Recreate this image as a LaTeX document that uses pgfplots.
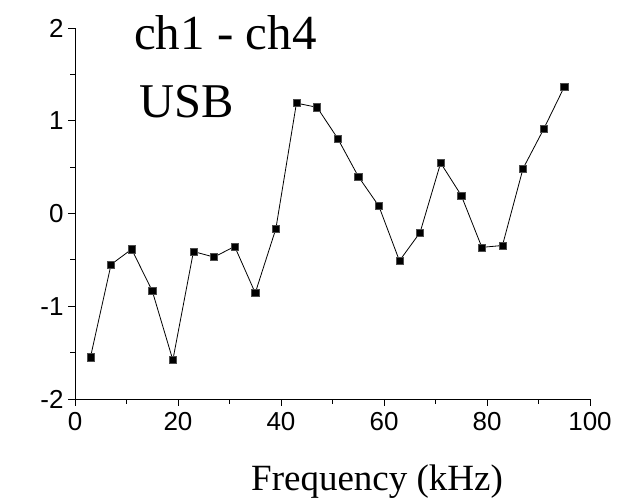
\documentclass[border=0pt]{standalone}
\usepackage{fontspec}
\setmainfont{Liberation Serif}
\newfontfamily\arial{Liberation Sans}
\usepackage{pgfplots}
\pgfplotsset{compat=1.18}
\begin{document}
\begin{tikzpicture}
\path[use as bounding box] (0,0) rectangle (624bp,502bp);
\begin{axis}[
  at={(75bp,103bp)}, anchor=south west,
  scale only axis, width=515bp, height=371bp,
  xmin=0, xmax=100, ymin=-2, ymax=2,
  axis x line*=bottom, axis y line*=left,
  axis line style={line width=0.9bp, -},
  xtick={0,20,40,60,80,100}, ytick={-2,-1,0,1,2},
  minor x tick num=1, minor y tick num=1,
  tick align=outside,
  major tick length=7bp, minor tick length=5bp,
  tick style={line width=0.9bp, black},
  /pgf/number format/assume math mode=true,
  every tick label/.append style={font=\arial\fontsize{26bp}{29bp}\selectfont},
  xticklabel style={yshift=-3bp},
  yticklabel style={xshift=-1bp},
  clip=false,
]
\addplot[black, line width=0.8bp, mark=square*, mark size=3.6bp,
  mark options={fill=black, draw=gray!60!black, line width=0.5bp}]
  coordinates {
  (3,-1.55) (7,-0.55) (11,-0.385) (15,-0.835) (19,-1.58) (23,-0.41)
  (27,-0.47) (31,-0.355) (35,-0.857) (39,-0.165) (43,1.19) (47,1.145)
  (51,0.81) (55,0.40) (59,0.08) (63,-0.51) (67,-0.205) (71,0.545)
  (75,0.195) (79,-0.365) (83,-0.345) (87,0.485) (91,0.91) (95,1.365)
  };
\end{axis}
\node[anchor=base west, inner sep=0pt, font=\fontsize{49bp}{52bp}\selectfont] at (134bp,452bp) {ch1 - ch4};
\node[anchor=base west, inner sep=0pt, font=\fontsize{48.5bp}{52bp}\selectfont] at (139bp,384bp) {USB};
\node[anchor=base west, inner sep=0pt, font=\fontsize{37bp}{40bp}\selectfont] at (251bp,12bp) {Frequency (kHz)};
\end{tikzpicture}
\end{document}
